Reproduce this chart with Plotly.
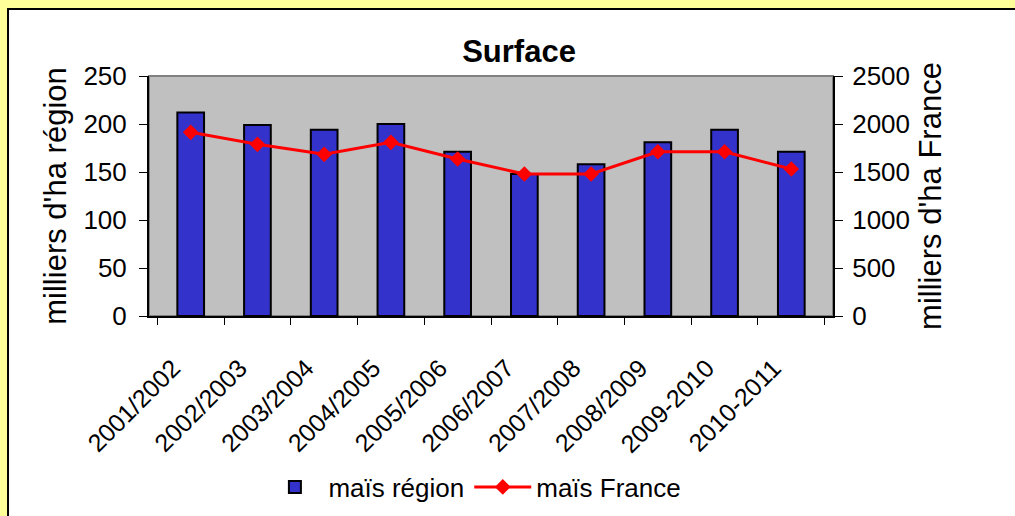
import plotly.graph_objects as go

# campagnes
campagnes = ["2001/2002", "2002/2003", "2003/2004", "2004/2005", "2005/2006",
             "2006/2007", "2007/2008", "2008/2009", "2009-2010", "2010-2011"]

# milliers d'ha (axe gauche)
mais_region = [212, 199, 194, 200, 171, 148, 158, 181, 194, 171]

# milliers d'ha (axe droit)
mais_france = [1913, 1788, 1684, 1809, 1635, 1479, 1479, 1711, 1711, 1531]

FONT = "Liberation Sans, Arial, sans-serif"

fig = go.Figure()

fig.add_trace(go.Bar(
    x=campagnes, y=mais_region, name="maïs région",
    marker=dict(color="#3333CC", line=dict(color="black", width=2)),
    yaxis="y",
))

fig.add_trace(go.Scatter(
    x=campagnes, y=mais_france, name="maïs France",
    mode="lines+markers",
    line=dict(color="#FF0000", width=3),
    marker=dict(symbol="diamond", size=12, color="#FF0000"),
    yaxis="y2",
))

fig.update_layout(
    width=1015, height=516,
    margin=dict(l=149, r=182, t=76, b=200, autoexpand=False),
    paper_bgcolor="#FFFF99",
    plot_bgcolor="rgba(0,0,0,0)",
    font=dict(family=FONT, size=26, color="black"),
    bargap=0.6,
    title=dict(text="<b>Surface</b>", font=dict(size=31),
               x=0.541, xref="paper", xanchor="center",
               y=0.90, yref="container", yanchor="middle"),
    xaxis=dict(
        type="category", tickson="boundaries", automargin=False,
        ticks="outside", ticklen=7, tickcolor="black", tickwidth=1,
        tickangle=-45, ticklabelstandoff=8, ticksuffix="\u2003",
        showline=True, linecolor="black", linewidth=2,
        showgrid=False, zeroline=False,
        tickfont=dict(size=25),
    ),
    yaxis=dict(
        range=[0, 250], dtick=50, automargin=False,
        ticks="outside", ticklen=8, tickcolor="black", tickwidth=1,
        ticklabelstandoff=7,
        showline=True, linecolor="black", linewidth=2,
        showgrid=False, zeroline=False,
        title=dict(text="milliers d'ha région", font=dict(size=31), standoff=8),
    ),
    yaxis2=dict(
        range=[0, 2500], dtick=500, overlaying="y", side="right", automargin=False,
        ticks="outside", ticklen=8, tickcolor="black", tickwidth=1,
        ticklabelstandoff=4,
        showline=True, linecolor="black", linewidth=2,
        showgrid=False, zeroline=False,
        title=dict(text="milliers d'ha France", font=dict(size=31), standoff=10),
    ),
    legend=dict(
        orientation="h", x=0.475, xanchor="center", y=-0.7125, yanchor="middle",
        bgcolor="rgba(0,0,0,0)", itemwidth=57, font=dict(size=26),
    ),
    shapes=[
        # white panel with black frame
        dict(type="rect", xref="paper", yref="paper",
             x0=-0.2061, x1=2, y0=-2, y1=1.2792,
             fillcolor="white", line=dict(color="black", width=2), layer="below"),
        # gray plot area
        dict(type="rect", xref="paper", yref="paper",
             x0=0, x1=1, y0=0, y1=1,
             fillcolor="#C0C0C0", line=dict(color="#808080", width=2), layer="below"),
    ],
)

# page without body margin so the figure sits at the window's corner
fig.write_html("out.html", config={"displayModeBar": False},
               post_script="document.body.style.margin='0';")
